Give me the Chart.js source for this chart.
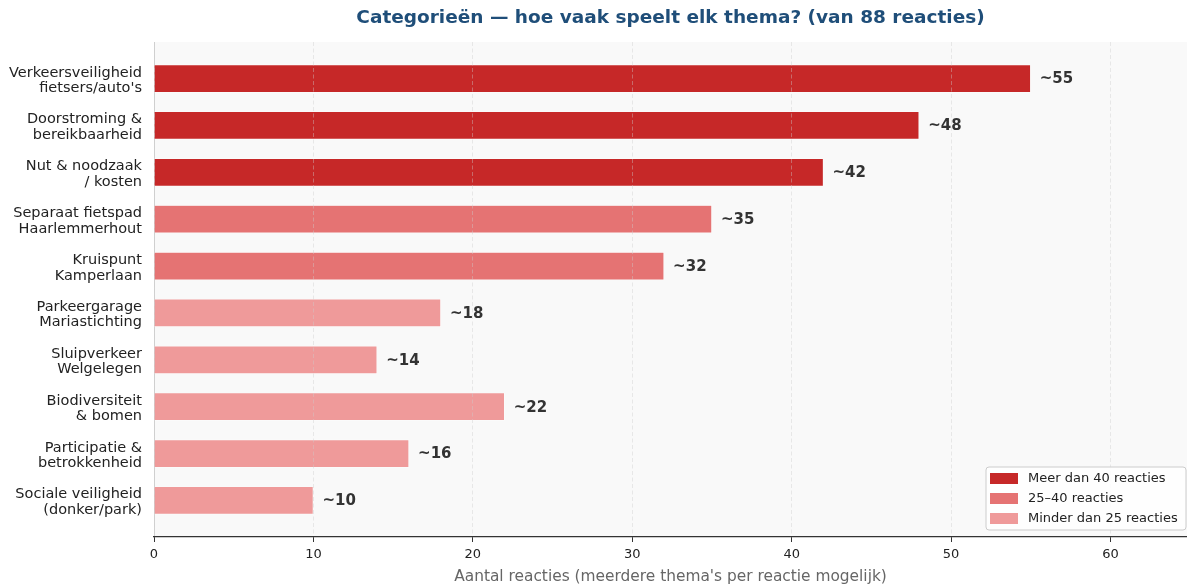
<!DOCTYPE html>
<html lang="nl">
<head>
<meta charset="utf-8">
<title>Categorieën</title>
<script src="https://cdn.jsdelivr.net/npm/chart.js@4/dist/chart.umd.min.js"></script>
<style>
    html, body { margin: 0; padding: 0; background: #fff; }
    #wrap { width: 1187px; height: 587px; }
</style>
</head>
<body>
<div id="wrap"><canvas id="barChart" width="1187" height="587"></canvas></div>
<script>
// data
const categories = [
    ["Verkeersveiligheid", "fietsers/auto's"],
    ["Doorstroming &", "bereikbaarheid"],
    ["Nut & noodzaak", "/ kosten"],
    ["Separaat fietspad", "Haarlemmerhout"],
    ["Kruispunt", "Kamperlaan"],
    ["Parkeergarage", "Mariastichting"],
    ["Sluipverkeer", "Welgelegen"],
    ["Biodiversiteit", "& bomen"],
    ["Participatie &", "betrokkenheid"],
    ["Sociale veiligheid", "(donker/park)"],
];
const counts = [55, 48, 42, 35, 32, 18, 14, 22, 16, 10];
const valueLabels = ["~55", "~48", "~42", "~35", "~32", "~18", "~14", "~22", "~16", "~10"];
const xTicks = [0, 10, 20, 30, 40, 50, 60];

const legendLabels = ["Meer dan 40 reacties", "25–40 reacties", "Minder dan 25 reacties"];
const colors = ["#c62828", "#e57373", "#ef9a9a"];

const FONT = "'DejaVu Sans', sans-serif";

function colorFor(v) {
    if (v > 40) return colors[0];
    if (v >= 25) return colors[1];
    return colors[2];
}

// achtergrond van het plotgebied
const plotBackground = {
    id: "plotBackground",
    beforeDraw(chart) {
        const { ctx, chartArea: a } = chart;
        ctx.save();
        ctx.fillStyle = "#f9f9f9";
        ctx.fillRect(a.left, a.top, a.right - a.left, a.bottom - a.top);
        ctx.restore();
    },
};

// titel, waardelabels en legenda
const extras = {
    id: "extras",
    afterDraw(chart) {
        const { ctx, chartArea: a } = chart;
        ctx.save();

        ctx.font = "bold 18.5px " + FONT;
        ctx.fillStyle = "#1f4e79";
        ctx.textAlign = "center";
        ctx.textBaseline = "middle";
        ctx.fillText("Categorieën — hoe vaak speelt elk thema? (van 88 reacties)", (a.left + a.right) / 2, 18);

        const meta = chart.getDatasetMeta(0);
        ctx.font = "bold 15px " + FONT;
        ctx.fillStyle = "#333333";
        ctx.textAlign = "left";
        meta.data.forEach((bar, i) => {
            ctx.fillText(valueLabels[i], bar.x + 9, bar.y + 1);
        });

        // legenda rechtsonder
        const w = 200, h = 63;
        const x = a.right - w - 1, y = a.bottom - h - 7;
        ctx.beginPath();
        ctx.roundRect(x, y, w, h, 3);
        ctx.fillStyle = "rgba(255,255,255,0.85)";
        ctx.fill();
        ctx.strokeStyle = "#cccccc";
        ctx.lineWidth = 1;
        ctx.stroke();
        ctx.font = "13px " + FONT;
        legendLabels.forEach((txt, i) => {
            const cy = y + 11.5 + i * 20;
            ctx.fillStyle = colors[i];
            ctx.fillRect(x + 4, cy - 5.5, 28, 11);
            ctx.fillStyle = "#222222";
            ctx.fillText(txt, x + 42, cy);
        });

        ctx.restore();
    },
};

const ctx = document.getElementById("barChart").getContext("2d");
new Chart(ctx, {
    type: "bar",
    data: {
        datasets: [
            {
                data: counts.map((v, i) => ({ x: v, y: i })),
                backgroundColor: counts.map(colorFor),
                borderColor: "rgba(255,255,255,0.7)",
                borderWidth: 0.7,
                barPercentage: 0.6,
                categoryPercentage: 1,
            },
        ],
    },
    options: {
        indexAxis: "y",
        responsive: false,
        animation: false,
        layout: { padding: { top: 42, right: 0, bottom: 0, left: 0 } },
        plugins: {
            legend: { display: false },
            title: { display: false },
            tooltip: {
                callbacks: {
                    title: (items) => categories[items[0].raw.y].join(" "),
                    label: (item) => `${item.raw.x} reacties`,
                },
            },
        },
        scales: {
            x: {
                type: "linear",
                min: 0,
                max: 64.8,
                afterBuildTicks: (scale) => {
                    scale.ticks = xTicks.map((v) => ({ value: v }));
                },
                afterFit: (scale) => { scale.height = 50; },
                ticks: {
                    color: "#222222",
                    font: { family: FONT, size: 13 },
                    padding: 5,
                },
                grid: {
                    z: 1,
                    color: "rgba(205,205,205,0.5)",
                    lineWidth: 0.8,
                    tickColor: "#333333",
                    tickLength: 5,
                    tickWidth: 1,
                },
                border: { display: true, z: 2, color: "#333333", width: 1.2, dash: [4, 2.5] },
                title: {
                    display: true,
                    text: "Aantal reacties (meerdere thema's per reactie mogelijk)",
                    color: "#666666",
                    font: { family: FONT, size: 15.4 },
                    padding: { top: 2, bottom: 1 },
                },
            },
            y: {
                type: "linear",
                reverse: true,
                offset: false,
                min: -0.78,
                max: 9.78,
                afterBuildTicks: (scale) => {
                    scale.ticks = categories.map((c, i) => ({ value: i }));
                },
                afterFit: (scale) => { scale.width = 154; },
                ticks: {
                    autoSkip: false,
                    color: "#222222",
                    font: { family: FONT, size: 14.5, lineHeight: "15.5px" },
                    padding: 12,
                    labelOffset: 2,
                    callback: (v) => categories[v] || "",
                },
                grid: { drawOnChartArea: false, drawTicks: false },
                border: { display: true, color: "#d0d0d0", width: 1 },
            },
        },
    },
    plugins: [plotBackground, extras],
});
</script>
</body>
</html>
